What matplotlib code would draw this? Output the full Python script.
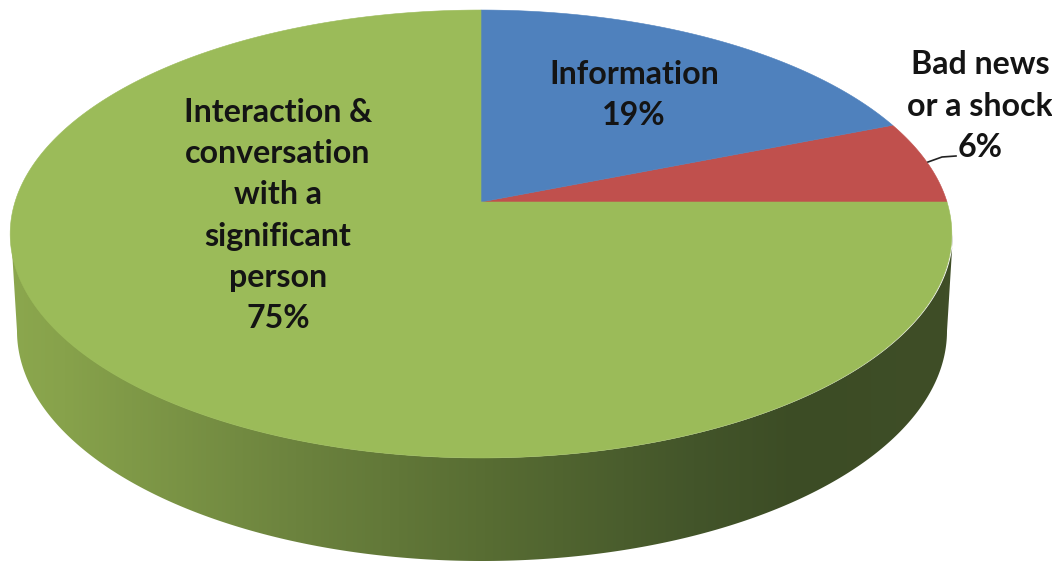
import numpy as np
import matplotlib
matplotlib.use("Agg")
import matplotlib.pyplot as plt
from matplotlib.colors import LinearSegmentedColormap
from matplotlib.patches import Polygon

categories = ["Bad news\nor a shock", "Information", "Interaction &\nconversation\nwith a\nsignificant\nperson"]
values = [6, 19, 75]
colors = ["#C0504D", "#4F81BD", "#9BBB59"]
label_pos = [(980, 106), (634, 95), (278, 215.5)]

W, H = 1052, 561
APEX = (481, 202)
A, B, K = 466.0, 219.4, 1 / 7


def project(theta):
    """Perspective view of the pie's circle, seen from the apex."""
    d = 1 + K * np.sin(theta)
    return APEX[0] + A * np.cos(theta) / d, APEX[1] - B * np.sin(theta) / d


fig = plt.figure(figsize=(W / 100, H / 100), dpi=100, facecolor="white")
ax = fig.add_axes([0, 0, 1, 1])

# side wall
arc = np.linspace(np.pi, 2 * np.pi, 300)
tx, ty = 482 + 471 * np.cos(arc), 234 - 224 * np.sin(arc)
bx, by = 482 + 465 * np.cos(arc), 331 - 230 * np.sin(arc)
wall = np.column_stack([np.r_[tx, bx[::-1]], np.r_[ty, by[::-1]]])
wall_cmap = LinearSegmentedColormap.from_list(
    "wall",
    [(0.0, "#8CA84E"), (0.06, "#87A24B"), (0.28, "#6C833E"), (0.46, "#586D33"),
     (0.66, "#43552A"), (0.76, "#3C4C25"), (0.90, "#3F4E27"), (1.0, "#4A5A2E")],
)
im = ax.imshow(np.linspace(0, 1, 512)[None, :], extent=(0, W, H, 0), cmap=wall_cmap,
               aspect="auto", zorder=1)
patch = Polygon(wall, closed=True, transform=ax.transData)
im.set_clip_path(patch)

# top face
fractions = np.cumsum([0] + values) / sum(values) * 2 * np.pi
for start, end, color in zip(fractions[:-1], fractions[1:], colors):
    t = np.linspace(start, end, 300)
    x, y = project(t)
    ax.fill(np.r_[APEX[0], x], np.r_[APEX[1], y], color=color, lw=0.4, zorder=2)

# labels
for cat, val, (lx, ly) in zip(categories, values, label_pos):
    ax.text(lx, ly, f"{cat}\n{val}%", ha="center", va="center", family="Lato",
            weight="bold", fontsize=23.1, color="#141414", linespacing=1.51, zorder=4)

ax.plot([928, 942, 956], [162, 157, 156], color="#222222", lw=1.2, zorder=3)

ax.set_xlim(0, W)
ax.set_ylim(H, 0)
ax.axis("off")
fig.savefig("out.png", dpi=100, facecolor="white")
